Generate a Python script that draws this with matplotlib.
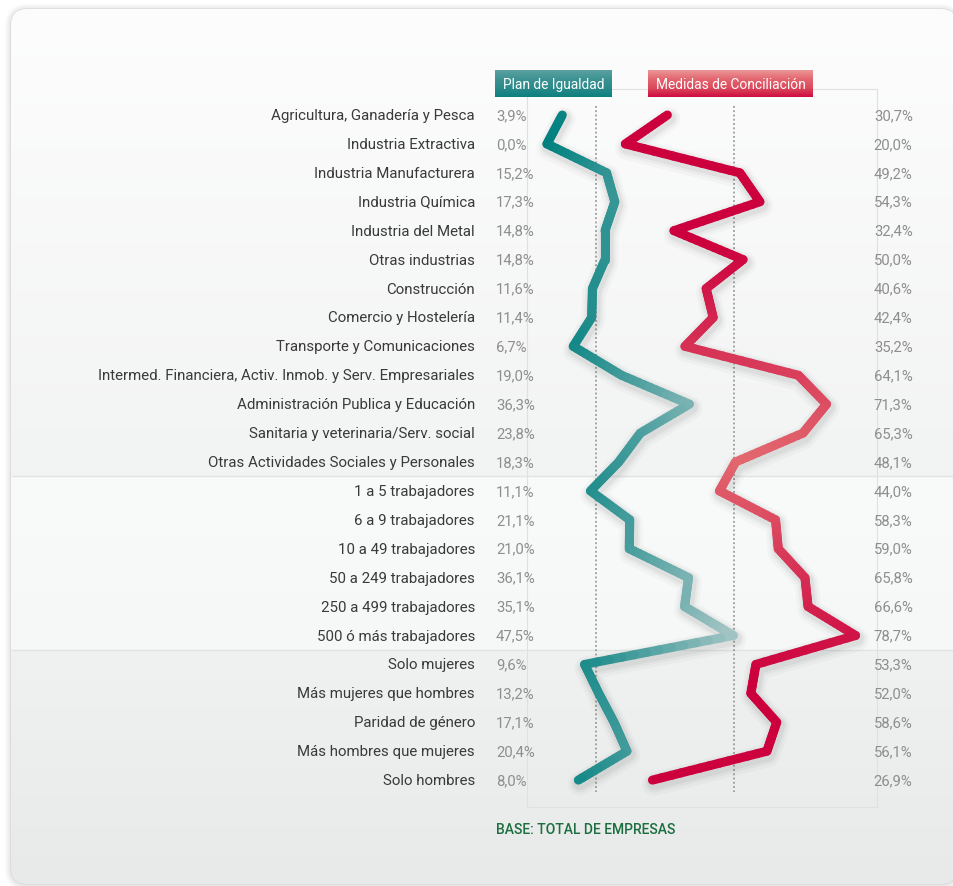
import numpy as np
import matplotlib
matplotlib.use("Agg")
import matplotlib.pyplot as plt
import matplotlib.transforms as mtransforms
from matplotlib.collections import LineCollection
from matplotlib.patches import FancyBboxPatch
from matplotlib.colors import to_rgb

# ---------------- data ----------------
categories = [
    "Agricultura, Ganadería y Pesca", "Industria Extractiva", "Industria Manufacturera",
    "Industria Química", "Industria del Metal", "Otras industrias", "Construcción",
    "Comercio y Hostelería", "Transporte y Comunicaciones",
    "Intermed. Financiera, Activ. Inmob. y Serv. Empresariales",
    "Administración Publica y Educación", "Sanitaria y veterinaria/Serv. social",
    "Otras Actividades Sociales y Personales",
    "1 a 5 trabajadores", "6 a 9 trabajadores", "10 a 49 trabajadores",
    "50 a 249 trabajadores", "250 a 499 trabajadores", "500 ó más trabajadores",
    "Solo mujeres", "Más mujeres que hombres", "Paridad de género",
    "Más hombres que mujeres", "Solo hombres",
]
plan_igualdad = [3.9, 0.0, 15.2, 17.3, 14.8, 14.8, 11.6, 11.4, 6.7, 19.0, 36.3, 23.8,
                 18.3, 11.1, 21.1, 21.0, 36.1, 35.1, 47.5, 9.6, 13.2, 17.1, 20.4, 8.0]
medidas_conciliacion = [30.7, 20.0, 49.2, 54.3, 32.4, 50.0, 40.6, 42.4, 35.2, 64.1, 71.3,
                        65.3, 48.1, 44.0, 58.3, 59.0, 65.8, 66.6, 78.7, 53.3, 52.0, 58.6,
                        56.1, 26.9]
reference_lines = [12.5, 47.7]
group_breaks = [12.5, 18.5]
series_names = ["Plan de Igualdad", "Medidas de Conciliación"]
base_note = "BASE: TOTAL DE EMPRESAS"

W, H = 954, 887
fig = plt.figure(figsize=(W / 100, H / 100), dpi=100)
fig.patch.set_facecolor("white")

FONT = ["Roboto", "DejaVu Sans"]

# ---------------- background axes (pixel space) ----------------
ax_bg = fig.add_axes([0, 0, 1, 1], zorder=0)
ax_bg.set_xlim(0, W)
ax_bg.set_ylim(H, 0)
ax_bg.axis("off")

# ---------------- main axes ----------------
ax = fig.add_axes([527 / W, (H - 808) / H, 350 / W, 718 / H], zorder=2)
ax.set_facecolor("none")
n = len(categories)
rows = np.arange(n)
ax.set_xlim(-5.10, 84.18)
ax.set_ylim(23.93, -0.90)
ax.set_xticks([])
ax.set_yticks([])
for s in ax.spines.values():
    s.set_color("#e0e0e0")
    s.set_linewidth(0.8)

# ---------------- overlay axes for legend boxes ----------------
ax_top = fig.add_axes([0, 0, 1, 1], zorder=5)
ax_top.set_xlim(0, W)
ax_top.set_ylim(H, 0)
ax_top.axis("off")
ax_top.set_facecolor("none")


def data_to_px_y(yv):
    return H - ax.transData.transform((0, yv))[1]


def mix(c1, c2, t):
    a = np.array(to_rgb(c1))
    b = np.array(to_rgb(c2))
    return a + (b - a) * t


# card shadow
card_x0, card_y0, card_x1, card_y1 = 11, 10, 957, 885
for i in range(1, 9):
    sh = FancyBboxPatch((card_x0 - i * 0.8, card_y0 - i * 0.8 + 1),
                        card_x1 - card_x0 + 1.6 * i, card_y1 - card_y0 + 1.6 * i,
                        boxstyle="round,pad=0,rounding_size=%d" % (16 + i),
                        facecolor="black", edgecolor="none", alpha=0.012, zorder=0)
    ax_bg.add_patch(sh)

card = FancyBboxPatch((card_x0, card_y0), card_x1 - card_x0, card_y1 - card_y0,
                      boxstyle="round,pad=0,rounding_size=16",
                      facecolor="#f8f8f8", edgecolor="#d6d6d6", linewidth=0.8, zorder=1)
ax_bg.add_patch(card)

b1 = data_to_px_y(group_breaks[0])
b2 = data_to_px_y(group_breaks[1])
ys = np.arange(card_y0, card_y1)
img = np.zeros((len(ys), 1, 3))
for k, y in enumerate(ys):
    if y < b1:
        t = (y - card_y0) / (b1 - card_y0)
        img[k, 0] = mix("#fdfdfd", "#f2f3f3", t)
    elif y < b2:
        t = (y - b1) / (b2 - b1)
        img[k, 0] = mix("#f9fafa", "#f6f7f7", t)
    else:
        t = (y - b2) / (card_y1 - b2)
        img[k, 0] = mix("#f0f1f1", "#e8e9e9", t)
im = ax_bg.imshow(img, extent=(card_x0, card_x1, card_y1, card_y0), aspect="auto",
                  interpolation="bilinear", zorder=1.5)
im.set_clip_path(card)
for b in (b1, b2):
    ax_bg.plot([card_x0 + 1, card_x1 - 1], [b, b], color="#e2e3e3", lw=1.0, zorder=1.6)

# ---------------- reference dotted lines ----------------
for rv in reference_lines:
    ax.plot([rv, rv], [-0.3, 23.4], color="#8c8c8c", lw=1.1, ls=(0, (1.2, 1.6)), zorder=2)


# ---------------- gradient lines ----------------
def gradient_line(xv, yv, color_fn, lw=6.5, sub=12):
    xv = np.asarray(xv, float)
    yv = np.asarray(yv, float)
    for w, a, dy in [(17, 0.022, -4), (13, 0.032, -3.5), (10, 0.045, -3)]:
        tr = mtransforms.offset_copy(ax.transData, fig=fig, x=1.5, y=dy, units="dots")
        ax.plot(xv, yv, color="black", alpha=a, lw=w, solid_capstyle="round",
                solid_joinstyle="round", transform=tr, zorder=3)
    segs, cols = [], []
    for i in range(len(xv) - 1):
        ts = np.linspace(0, 1, sub + 1)
        px = xv[i] + (xv[i + 1] - xv[i]) * ts
        py = yv[i] + (yv[i + 1] - yv[i]) * ts
        for j in range(sub):
            segs.append([(px[j], py[j]), (px[j + 1], py[j + 1])])
            cols.append(color_fn((px[j] + px[j + 1]) / 2, (py[j] + py[j + 1]) / 2))
    lc = LineCollection(segs, colors=cols, linewidths=lw, capstyle="round",
                        joinstyle="round", zorder=4)
    ax.add_collection(lc)


def teal_color(x, y):
    t = np.clip(x / 48.0, 0, 1) ** 1.1
    return mix("#00807f", "#a9c6c6", t)


def red_color(x, y):
    t = max(0.0, 1 - abs(y - 12.0) / 7.5)
    return mix("#cc003d", "#e2686f", t)


gradient_line(plan_igualdad, rows, teal_color)
gradient_line(medidas_conciliacion, rows, red_color)

# ---------------- text ----------------
blend = mtransforms.blended_transform_factory(ax.transAxes, ax.transData)
fmt = lambda v: f"{v:.1f}%".replace(".", ",")
for i, cat in enumerate(categories):
    ax.text(-0.1486, i, cat, ha="right", va="center", transform=blend, fontsize=10.8,
            color="#3a3a3a", family=FONT)
    ax.text(-0.0886, i, fmt(plan_igualdad[i]), ha="left", va="center", transform=blend,
            fontsize=10.7, color="#8e8e8e", family=FONT)
    ax.text(0.991, i, fmt(medidas_conciliacion[i]), ha="left", va="center", transform=blend,
            fontsize=10.7, color="#8e8e8e", family=FONT, clip_on=False)


# ---------------- legend boxes ----------------
def grad_box(x0, x1, y0, y1, stops, label):
    hh = int(y1 - y0)
    arr = np.zeros((hh, 1, 3))
    pos = np.linspace(0, 1, len(stops))
    for k in range(hh):
        t = k / max(hh - 1, 1)
        j = min(np.searchsorted(pos, t, side="right") - 1, len(stops) - 2)
        tt = (t - pos[j]) / (pos[j + 1] - pos[j])
        arr[k, 0] = mix(stops[j], stops[j + 1], tt)
    ax_top.imshow(arr, extent=(x0, x1, y1, y0), aspect="auto", interpolation="bilinear",
                  zorder=5)
    ax_top.text((x0 + x1) / 2, (y0 + y1) / 2 + 0.5, label, ha="center", va="center",
                color="white", fontsize=9.9, family=FONT, zorder=6)


grad_box(495, 612, 71, 98, ["#5aa0a0", "#3d9293", "#2b8a8a", "#0f8080"], series_names[0])
grad_box(648, 813, 71, 98, ["#eb9496", "#e2666f", "#db4a5c", "#cf0f42"], series_names[1])

ax_top.set_xlim(0, W)
ax_top.set_ylim(H, 0)

ax_bg.text(496, 830, base_note, ha="left", va="center", color="#1b6e3f", fontsize=10.0,
           family=FONT, weight="medium", zorder=6)

fig.savefig("out.png", dpi=100, facecolor="white")
